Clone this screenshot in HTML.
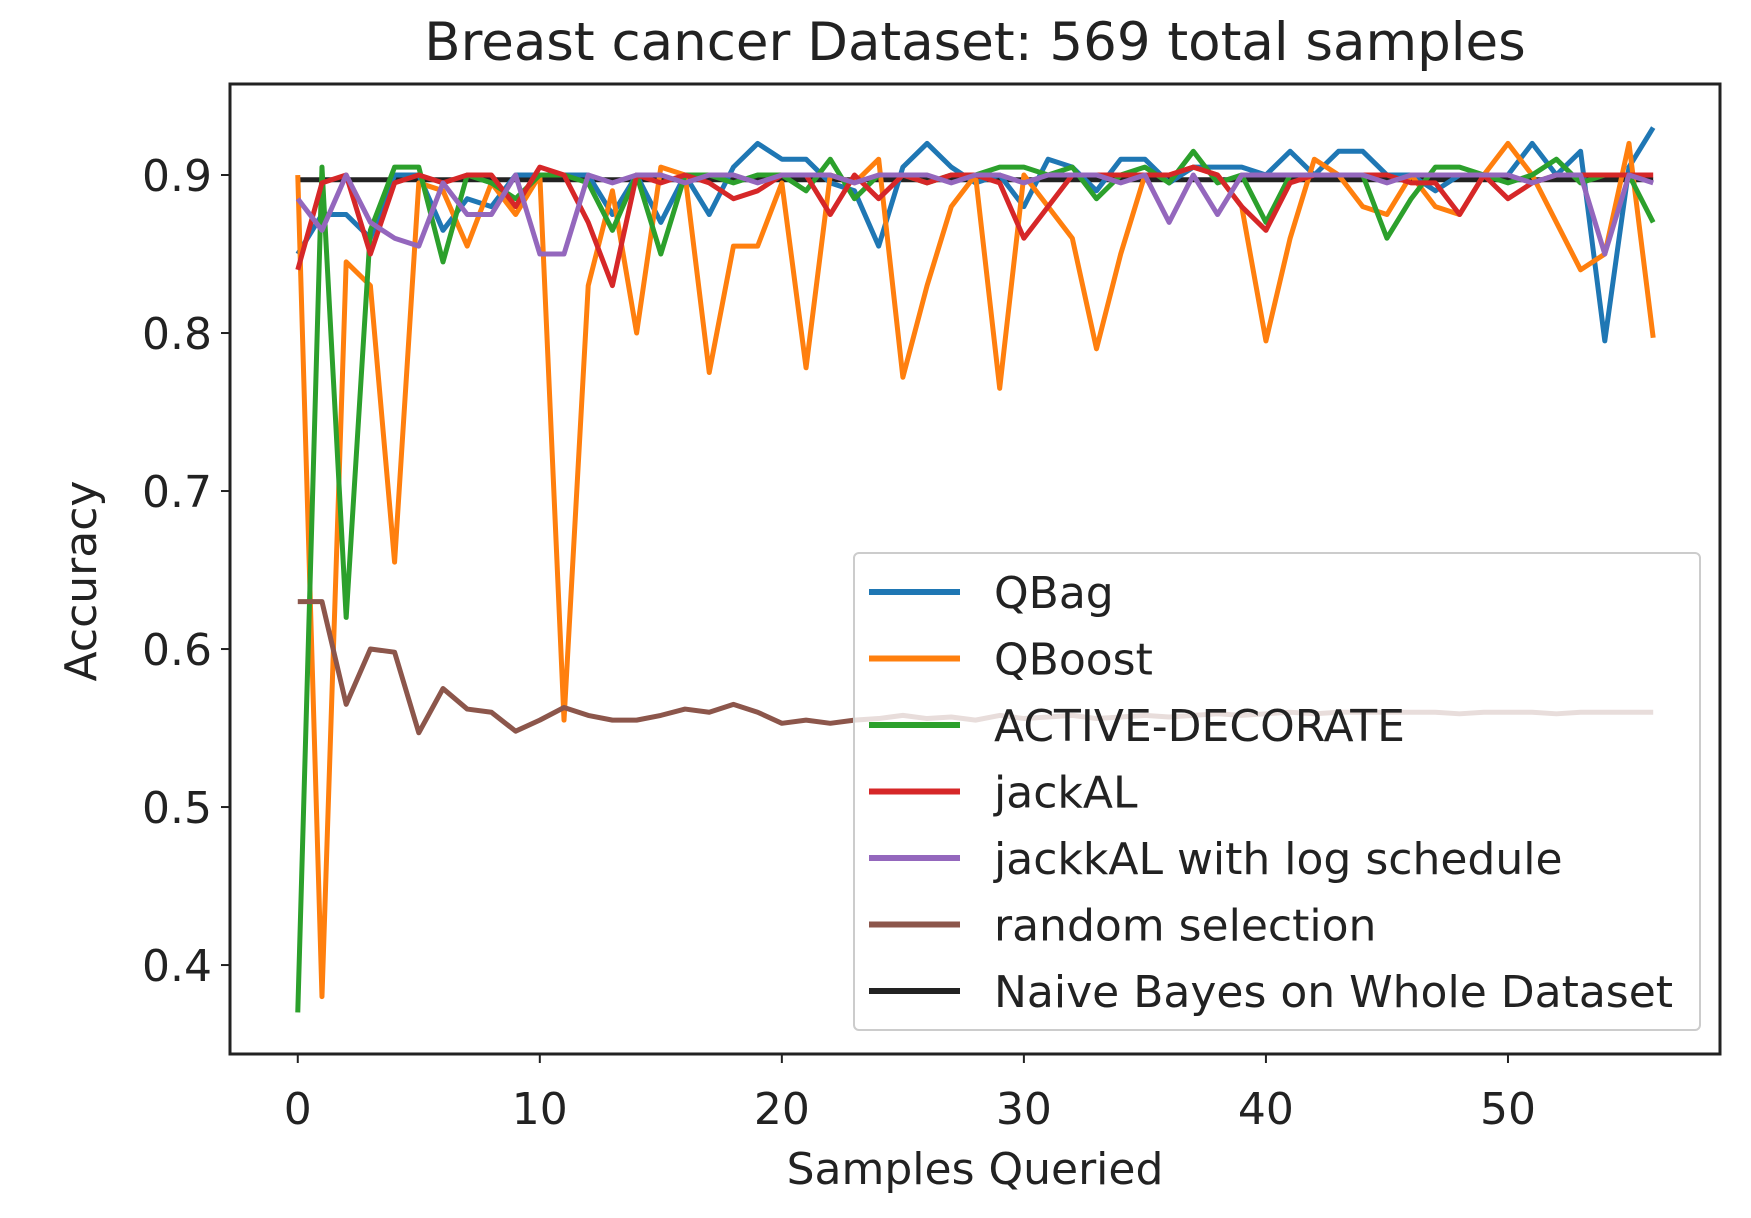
<!DOCTYPE html>
<html><head><meta charset="utf-8"><style>
html,body{margin:0;padding:0;background:#fff;}
svg{display:block;font-family:"DejaVu Sans","Liberation Sans",sans-serif;}
</style></head><body>
<svg id="chart" width="1751" height="1218" viewBox="0 0 1751 1218" xmlns="http://www.w3.org/2000/svg">
<text x="975" y="60" font-size="53" text-anchor="middle" fill="#222">Breast cancer Dataset: 569 total samples</text>
<g id="plot"></g>
<text x="975" y="1184" font-size="44" text-anchor="middle" fill="#222">Samples Queried</text>
<text transform="translate(96,581) rotate(-90)" font-size="44" text-anchor="middle" fill="#222">Accuracy</text>
</svg>
<script>
const xTicks=[0,10,20,30,40,50];
const yTicks=[0.4,0.5,0.6,0.7,0.8,0.9];
const yTickLabels=["0.4","0.5","0.6","0.7","0.8","0.9"];
const seriesNames=["QBag","QBoost","ACTIVE-DECORATE","jackAL","jackkAL with log schedule","random selection","Naive Bayes on Whole Dataset"];
const qbag=[0.85,0.875,0.875,0.86,0.9,0.9,0.865,0.885,0.88,0.9,0.9,0.9,0.9,0.875,0.9,0.87,0.9,0.875,0.905,0.92,0.91,0.91,0.895,0.89,0.855,0.905,0.92,0.905,0.895,0.9,0.88,0.91,0.905,0.89,0.91,0.91,0.895,0.905,0.905,0.905,0.9,0.915,0.9,0.915,0.915,0.9,0.9,0.89,0.9,0.9,0.9,0.92,0.9,0.915,0.795,0.905,0.93];
const qboost=[0.9,0.38,0.845,0.83,0.655,0.895,0.89,0.855,0.895,0.875,0.9,0.555,0.83,0.89,0.8,0.905,0.9,0.775,0.855,0.855,0.895,0.778,0.9,0.895,0.91,0.772,0.83,0.88,0.9,0.765,0.9,0.88,0.86,0.79,0.85,0.9,0.9,0.905,0.9,0.88,0.795,0.86,0.91,0.9,0.88,0.875,0.9,0.88,0.875,0.9,0.92,0.9,0.87,0.84,0.85,0.92,0.797];
const decorate=[0.37,0.905,0.62,0.865,0.905,0.905,0.845,0.9,0.895,0.885,0.9,0.9,0.895,0.865,0.9,0.85,0.9,0.9,0.895,0.9,0.9,0.89,0.91,0.885,0.9,0.9,0.895,0.9,0.9,0.905,0.905,0.9,0.905,0.885,0.9,0.905,0.895,0.915,0.895,0.9,0.87,0.9,0.9,0.9,0.9,0.86,0.885,0.905,0.905,0.9,0.895,0.9,0.91,0.895,0.9,0.9,0.87];
const jackal=[0.84,0.895,0.9,0.85,0.895,0.9,0.895,0.9,0.9,0.88,0.905,0.9,0.87,0.83,0.9,0.895,0.9,0.895,0.885,0.89,0.9,0.9,0.875,0.9,0.885,0.9,0.895,0.9,0.9,0.895,0.86,0.88,0.9,0.9,0.9,0.9,0.9,0.905,0.9,0.88,0.865,0.895,0.9,0.9,0.9,0.9,0.895,0.895,0.875,0.9,0.885,0.895,0.9,0.9,0.9,0.9,0.9];
const jackkalLog=[0.885,0.865,0.9,0.87,0.86,0.855,0.895,0.875,0.875,0.9,0.85,0.85,0.9,0.895,0.9,0.9,0.895,0.9,0.9,0.895,0.9,0.9,0.9,0.895,0.9,0.9,0.9,0.895,0.9,0.9,0.895,0.9,0.9,0.9,0.895,0.9,0.87,0.9,0.875,0.9,0.9,0.9,0.9,0.9,0.9,0.895,0.9,0.9,0.9,0.9,0.9,0.895,0.9,0.9,0.85,0.9,0.895];
const randomSel=[0.63,0.63,0.565,0.6,0.598,0.547,0.575,0.562,0.56,0.548,0.555,0.563,0.558,0.555,0.555,0.558,0.562,0.56,0.565,0.56,0.553,0.555,0.553,0.555,0.556,0.558,0.556,0.557,0.555,0.558,0.556,0.557,0.558,0.556,0.557,0.558,0.557,0.558,0.559,0.558,0.559,0.56,0.559,0.56,0.56,0.56,0.56,0.56,0.559,0.56,0.56,0.56,0.559,0.56,0.56,0.56,0.56];
const naiveBayes=Array(57).fill(0.897);
const seriesColors=["#1f77b4","#ff7f0e","#2ca02c","#d62728","#9467bd","#8c564b","#222222"];

const L=230,R=1720,T=84,B=1054;
const xMin=-2.8,xMax=58.76,yMin=0.3437,yMax=0.9576;
const xs=v=>L+(v-xMin)/(xMax-xMin)*(R-L);
const ys=v=>B-(v-yMin)/(yMax-yMin)*(B-T);
const NS="http://www.w3.org/2000/svg";
const plot=document.getElementById('plot');
function mk(tag,attrs,parent){const e=document.createElementNS(NS,tag);for(const k in attrs)e.setAttribute(k,attrs[k]);(parent||plot).appendChild(e);return e;}

const clip=mk('clipPath',{id:'clipA'});mk('rect',{x:L,y:T,width:R-L,height:B-T},clip);

const all=[qbag,qboost,decorate,jackal,jackkalLog,randomSel];
const keys=["qbag","qboost","active-decorate","jackal","jackkal-log","random-selection"];
function drawLine(arr,color,name){
  const p=mk('polyline',{points:arr.map((v,i)=>xs(i)+','+ys(v)).join(' '),fill:'none',stroke:color,'stroke-width':5,'stroke-linejoin':'round','clip-path':'url(#clipA)'});
  
  
}
drawLine(naiveBayes,seriesColors[6],'naive-bayes-line');
all.forEach((a,i)=>drawLine(a,seriesColors[i],keys[i]+'-line'));

const frame=mk('rect',{x:L,y:T,width:R-L,height:B-T,fill:'none',stroke:'#222','stroke-width':3});



xTicks.forEach(t=>{
  mk('line',{x1:xs(t),x2:xs(t),y1:B,y2:B+9,stroke:'#222','stroke-width':2});
  const tx=mk('text',{x:xs(t),y:B+70,'font-size':44,'text-anchor':'middle',fill:'#222'});
  tx.textContent=t;
  
  
});
yTicks.forEach((t,i)=>{
  mk('line',{x1:L-9,x2:L,y1:ys(t),y2:ys(t),stroke:'#222','stroke-width':2});
  const tx=mk('text',{x:L-18,y:ys(t)+16,'font-size':44,'text-anchor':'end',fill:'#222'});
  tx.textContent=yTickLabels[i];
  
  
});

const lg=mk('g',{});


mk('rect',{x:854,y:553,width:846,height:477,rx:5,fill:'#fff','fill-opacity':0.8,stroke:'#ccc','stroke-width':2},lg);
seriesNames.forEach((n,i)=>{
  const y=592+i*66.5;
  const g=mk('g',{},lg);
  
  
  mk('line',{x1:869,x2:960,y1:y,y2:y,stroke:seriesColors[i],'stroke-width':6},g);
  const t=mk('text',{x:994,y:y+16,'font-size':44,fill:'#222'},g);
  t.textContent=n;
});
</script>
</body></html>
